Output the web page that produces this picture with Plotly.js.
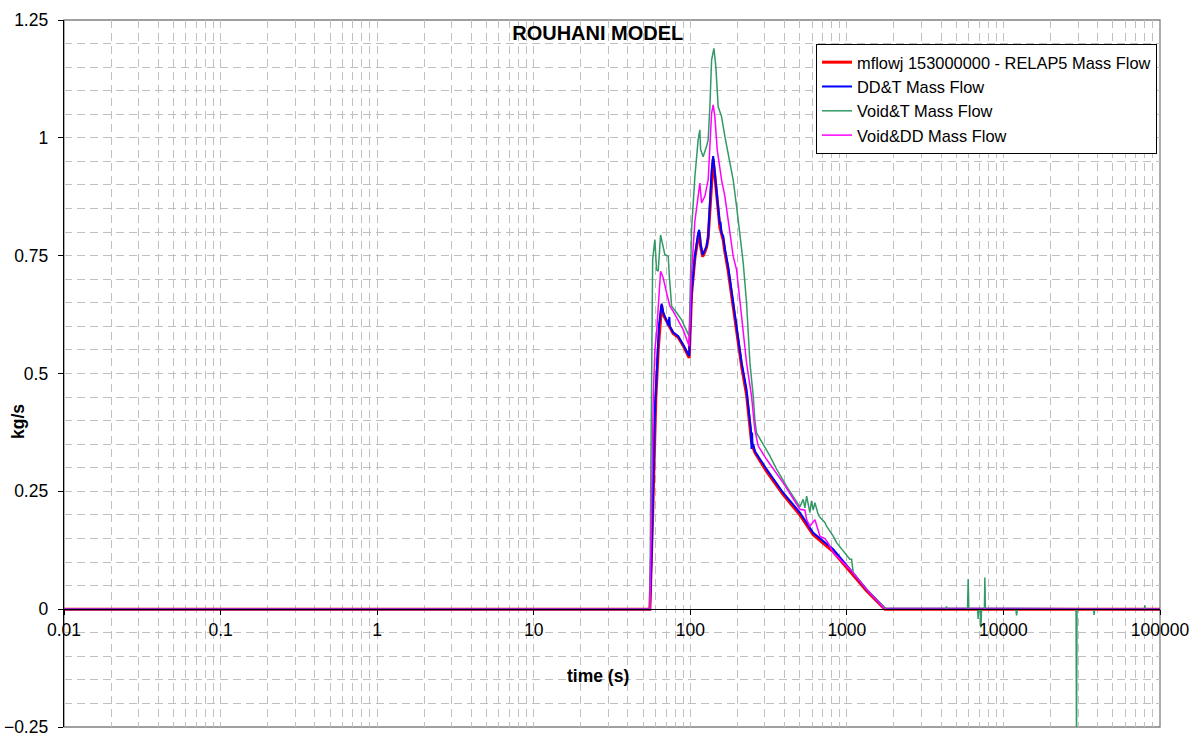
<!DOCTYPE html>
<html>
<head>
<meta charset="utf-8">
<script src="https://cdn.plot.ly/plotly-3.0.1.min.js"></script>
<style>html,body{margin:0;padding:0;background:#fff;}#chart{width:1198px;height:736px;}</style>
</head>
<body>
<div id="chart"></div>
<script>
// ---- data (time in s, mass flow in kg/s) ----
var seriesNames = ['mflowj 153000000 - RELAP5 Mass Flow', 'DD&T Mass Flow', 'Void&T Mass Flow', 'Void&DD Mass Flow'];

var relapTime = [0.01, 55.2, 57.5, 59.4, 60.3, 62.4, 64.6, 65.6, 67.1, 70.6, 74.1, 77.8, 83.7, 90.1, 95, 98.4, 101.9, 107, 112.3, 114, 116.4, 119.9, 123.9, 127.1, 130.1, 133.4, 136.8, 140, 143.5, 147.2, 150.7, 154.5, 158.4, 162.3, 166.3, 174.6, 187.9, 202.3, 212.8, 228.7, 240.3, 246.1, 252.3, 258.7, 306.9, 391.8, 501.2, 609.5, 817.9, 1045, 1336, 1749, 100000];
var relapFlow = [0, 0, 0.2, 0.40, 0.45, 0.55, 0.62, 0.645, 0.625, 0.61, 0.598, 0.585, 0.577, 0.559, 0.545, 0.533, 0.668, 0.745, 0.79, 0.80, 0.77, 0.748, 0.758, 0.768, 0.788, 0.85, 0.92, 0.955, 0.92, 0.878, 0.838, 0.81, 0.797, 0.783, 0.758, 0.718, 0.642, 0.565, 0.515, 0.455, 0.395, 0.355, 0.342, 0.332, 0.292, 0.243, 0.2, 0.158, 0.122, 0.081, 0.039, 0, 0];

var ddtTime = [0.01, 55.2, 56.5, 58, 59.4, 61, 63, 65.6, 67.1, 70.6, 72.5, 73.5, 74.1, 77.8, 83.7, 90.1, 98.4, 101.9, 107, 112.3, 114, 116.4, 119.9, 127.1, 130.1, 133.4, 136.8, 140, 143.5, 147.2, 150.7, 154.5, 156, 158.4, 162.3, 166.3, 174.6, 187.9, 202.3, 212.8, 228.7, 240.3, 244, 246.1, 248, 250, 252.3, 258.7, 306.9, 391.8, 501.2, 609.5, 817.9, 1045, 1336, 1749, 100000];
var ddtFlow = [0, 0, 0.1, 0.3, 0.42, 0.5, 0.6, 0.648, 0.63, 0.612, 0.602, 0.62, 0.6, 0.587, 0.579, 0.561, 0.537, 0.671, 0.749, 0.798, 0.805, 0.775, 0.752, 0.77, 0.791, 0.86, 0.93, 0.961, 0.925, 0.883, 0.84, 0.816, 0.822, 0.798, 0.791, 0.765, 0.727, 0.65, 0.572, 0.523, 0.466, 0.403, 0.38, 0.34, 0.375, 0.345, 0.35, 0.335, 0.297, 0.247, 0.205, 0.162, 0.127, 0.085, 0.042, 0.0015, 0];

var voidTTime = [0.01, 55.2, 56, 57.5, 59.4, 60.9, 62.4, 64.6, 68.8, 72.3, 73.5, 76, 81.8, 88, 94, 98.4, 101.9, 107, 112.3, 115.1, 116.4, 120.8, 127.1, 130.1, 133.4, 136.8, 141.5, 145.6, 150.7, 158.4, 166.3, 174.6, 187.9, 197.6, 207.5, 217.8, 228.7, 240.3, 252.3, 258.7, 265, 322.3, 355.6, 412, 501.2, 526, 539.6, 553.5, 580.5, 594.6, 609.5, 625, 656.3, 672.8, 724.4, 741.7, 817.9, 859.9, 1045, 1072, 1097, 1336, 1749, 1792, 4300, 4330, 4360, 5900, 5955, 6010, 6850, 6890, 6950, 7100, 7175, 7250, 7560, 7610, 7670, 12000, 12130, 12260, 29100, 29300, 29500, 37700, 37940, 38200, 79500, 80000, 80500, 100000];
var voidTFlow = [0, 0, 0.3, 0.742, 0.784, 0.72, 0.717, 0.794, 0.752, 0.749, 0.706, 0.643, 0.629, 0.614, 0.593, 0.579, 0.805, 0.918, 0.996, 1.017, 0.975, 0.96, 0.982, 0.996, 1.066, 1.165, 1.19, 1.151, 1.066, 1.045, 1.003, 0.967, 0.911, 0.854, 0.8, 0.735, 0.65, 0.523, 0.452, 0.4, 0.374, 0.325, 0.297, 0.261, 0.217, 0.233, 0.215, 0.24, 0.205, 0.23, 0.21, 0.226, 0.201, 0.195, 0.184, 0.176, 0.155, 0.141, 0.106, 0.106, 0.078, 0.042, 0.002, 0, 0, 0.006, 0, 0, 0.064, 0, 0, -0.021, 0, 0, -0.039, 0, 0, 0.067, 0, 0, -0.013, 0, 0, -0.3, 0, 0, -0.012, 0, 0, 0.008, 0, 0];

var voidDDTime = [0.01, 55.2, 56.5, 58, 59.4, 60.9, 64.6, 67.1, 70.6, 74.1, 77.8, 83.7, 90.1, 98.4, 101.9, 107, 112.3, 115.1, 118, 123.9, 130.1, 136.8, 140, 143.5, 148.6, 158.4, 166.3, 174.6, 183.6, 187.9, 197.6, 207.5, 217.8, 228.7, 246.1, 258.7, 271.6, 306.9, 391.8, 501.2, 539.6, 553.5, 580.5, 625, 672.8, 724.4, 760, 817.9, 1045, 1336, 1749, 100000];
var voidDDFlow = [0, 0, 0.2, 0.45, 0.55, 0.586, 0.717, 0.703, 0.671, 0.643, 0.632, 0.614, 0.593, 0.558, 0.713, 0.823, 0.883, 0.904, 0.862, 0.876, 0.911, 1.052, 1.07, 1.045, 0.975, 0.911, 0.876, 0.826, 0.784, 0.749, 0.72, 0.65, 0.593, 0.523, 0.452, 0.38, 0.346, 0.318, 0.268, 0.212, 0.21, 0.19, 0.176, 0.19, 0.155, 0.15, 0.14, 0.12, 0.085, 0.042, 0.0, 0];

var xTickVals = [0.01, 0.1, 1, 10, 100, 1000, 10000, 100000];
var xTickText = ['0.01', '0.1', '1', '10', '100', '1000', '10000', '100000'];

// ---- styling ----
var FONT = '"Liberation Sans", Arial, sans-serif';
var GRID = '#c0c0c0';
var DASH = '8px,5px';
var PL = 64, PR = 1160, PT = 20, PB = 727;
var PW = PR - PL, PH = PB - PT;
function px(x) { return (x - PL) / PW; }
function py(y) { return (PB - y) / PH; }

var traces = [
  {x: relapTime, y: relapFlow, name: seriesNames[0], mode: 'lines', line: {color: '#ff0000', width: 3}},
  {x: ddtTime, y: ddtFlow, name: seriesNames[1], mode: 'lines', line: {color: '#0000ff', width: 2}},
  {x: voidTTime, y: voidTFlow, name: seriesNames[2], mode: 'lines', line: {color: '#339966', width: 1.5}},
  {x: voidDDTime, y: voidDDFlow, name: seriesNames[3], mode: 'lines', line: {color: '#ff00ff', width: 1.5}}
];

var layout = {
  width: 1198, height: 736,
  margin: {l: PL, r: 1198 - PR, t: PT, b: 736 - PB, autoexpand: false},
  paper_bgcolor: '#ffffff', plot_bgcolor: '#ffffff',
  font: {family: FONT, color: '#000000', size: 17},
  title: {text: '<b>ROUHANI MODEL</b>', font: {family: FONT, size: 20, color: '#000'},
          xref: 'container', yref: 'container', x: 0.499, y: 1 - 33 / 736, xanchor: 'center', yanchor: 'middle'},
  showlegend: true,
  legend: {x: px(816), y: py(44), xanchor: 'left', yanchor: 'top',
           bgcolor: '#ffffff', bordercolor: '#000000', borderwidth: 1,
           font: {family: FONT, size: 16.4, color: '#000'}, tracegroupgap: 0},
  xaxis: {
    type: 'log', range: [-2, 5], anchor: 'free', position: 0.25 / 1.5,
    tickmode: 'array', tickvals: xTickVals, ticktext: xTickText,
    showline: true, linecolor: '#000000', linewidth: 1.3,
    ticks: 'outside', ticklen: 5, tickcolor: '#000', tickwidth: 1,
    tickfont: {family: FONT, size: 17.5}, ticklabeloverflow: 'allow',
    showgrid: true, gridcolor: GRID, gridwidth: 1, griddash: DASH,
    minor: {dtick: 'D1', showgrid: true, gridcolor: GRID, gridwidth: 1, griddash: DASH, ticks: ''},
    zeroline: false, automargin: false, fixedrange: true
  },
  yaxis: {
    range: [-0.25, 1.25], dtick: 0.25, tick0: 0,
    showline: true, linecolor: '#000000', linewidth: 1.3,
    ticks: 'outside', ticklen: 5, tickcolor: '#000', ticklabelstandoff: 6,
    tickfont: {family: FONT, size: 17.5}, ticklabeloverflow: 'allow',
    showgrid: true, gridcolor: GRID, gridwidth: 1, griddash: DASH,
    minor: {dtick: 0.05, tick0: 0, showgrid: true, gridcolor: GRID, gridwidth: 1, griddash: DASH, ticks: ''},
    zeroline: false, automargin: false, fixedrange: true
  },
  shapes: [
    {type: 'rect', xref: 'paper', yref: 'paper', x0: 0, x1: 1, y0: 0, y1: 1,
     line: {color: '#808080', width: 1.3}, fillcolor: 'rgba(0,0,0,0)', layer: 'below'}
  ],
  annotations: [
    {text: '<b>time (s)</b>', xref: 'paper', yref: 'paper', x: px(598), y: py(676),
     xanchor: 'center', yanchor: 'middle', showarrow: false, font: {family: FONT, size: 17.5}},
    {text: '<b>kg/s</b>', xref: 'paper', yref: 'paper', x: px(18), y: py(422),
     xanchor: 'center', yanchor: 'middle', textangle: -90, showarrow: false, font: {family: FONT, size: 17.5}}
  ]
};

Plotly.newPlot('chart', traces, layout, {displayModeBar: false, staticPlot: true});
</script>
</body>
</html>
